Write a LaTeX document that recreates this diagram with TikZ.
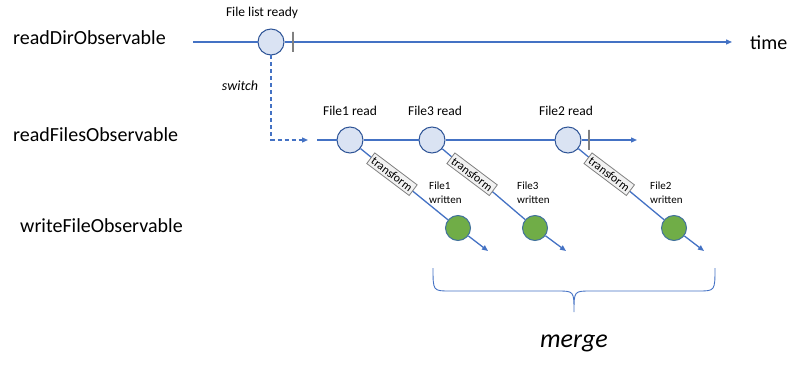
\documentclass[tikz,border=0pt]{standalone}
\usepackage{fontspec}
\setmainfont{Carlito}
\usetikzlibrary{arrows.meta, positioning}

\definecolor{azul}{HTML}{4472C4}
\definecolor{azulclaro}{HTML}{DAE3F3}
\definecolor{borda}{HTML}{2F5597}
\definecolor{verde}{HTML}{70AD47}
\definecolor{bordaverde}{HTML}{41719C}

\begin{document}
\begin{tikzpicture}[
      x=1pt, y=-1pt,
      rotulo/.style={font=\fontsize{20}{24}\selectfont, anchor=base west, inner sep=0pt},
      evento/.style={circle, draw=borda, fill=azulclaro, line width=1pt,
                     minimum size=26pt, inner sep=0pt},
      escrito/.style={circle, draw=bordaverde, fill=verde, line width=1pt,
                      minimum size=25pt, inner sep=0pt},
      nome/.style={font=\fontsize{13.5}{16}\selectfont, inner sep=0pt, anchor=base},
      nota/.style={font=\fontsize{11}{14}\selectfont, align=left, inner sep=0pt,
                   anchor=north west},
      caixa/.style={draw=gray, fill=black!5, text=black, rotate=-37, line width=0.8pt,
                    font=\fontsize{12}{14}\selectfont, inner sep=2.5pt},
      marca/.style={draw=gray, line width=1.5pt, minimum width=0pt,
                    minimum height=20pt, inner sep=0pt},
      linha/.style={azul, line width=1.3pt},
      seta/.style={-{Triangle[length=6pt, width=5pt]}, azul, line width=1.3pt}
    ]
    \useasboundingbox (0,0) rectangle (800,374);
    % observable names
    \node[rotulo] (readDir) at (13,45) {readDirObservable};
    \node[rotulo] (readFiles) at (13,142) {readFilesObservable};
    \node[rotulo] (writeFile) at (20,233) {writeFileObservable};
    % directory stream
    \coordinate (dirStart) at (193,42);
    \coordinate (dirEnd) at (732,42);
    \node[evento] (ready) at (271,42) {};
    \node[nome] (readyLabel) at (262,17) {File list ready};
    \draw[linha] (dirStart) -- (ready);
    \draw[seta] (ready) -- (dirEnd);
    \node[marca] (dirStop) at (293,42) {};
    \node[rotulo] (time) at (750,50) {time};
    % switch
    \coordinate (switchEnd) at (308,140);
    \draw[seta, dash pattern=on 4pt off 3pt] (ready) |- (switchEnd);
    \node[font=\itshape\fontsize{14}{16}\selectfont] (switch) at (240,86) {switch};
    % files stream
    \coordinate (readStart) at (317,140);
    \coordinate (readEnd) at (637,140);
    \node[evento] (f1) at (350,140) {};
    \node[evento] (f3) at (432,140) {};
    \node[evento] (f2) at (568,140) {};
    \node[nome] (f1Label) at (350,116) {File1 read};
    \node[nome] (f3Label) at (435,116) {File3 read};
    \node[nome] (f2Label) at (566,116) {File2 read};
    \draw[linha] (readStart) -- (f1) -- (f3) -- (f2);
    \draw[seta] (f2) -- (readEnd);
    \node[marca] (readStop) at (589,140) {};
    % written files
    \node[escrito] (w1) at (458,228) {};
    \node[escrito] (w3) at (535,228) {};
    \node[escrito] (w2) at (674,228) {};
    \coordinate (e1) at (488,251);
    \coordinate (e3) at (566,251);
    \coordinate (e2) at (704,251);
    \draw[linha] (f1) -- node[caixa, pos=0.36] (t1) {transform} (w1);
    \draw[linha] (f3) -- node[caixa, pos=0.36] (t3) {transform} (w3);
    \draw[linha] (f2) -- node[caixa, pos=0.36] (t2) {transform} (w2);
    \draw[seta] (w1) -- (e1);
    \draw[seta] (w3) -- (e3);
    \draw[seta] (w2) -- (e2);
    \node[nota] (w1Label) at (429,182) {File1\\written};
    \node[nota] (w3Label) at (517,182) {File3\\written};
    \node[nota] (w2Label) at (650,182) {File2\\written};
    % merge brace
    \draw[azul, line width=0.9pt] (433,268) .. controls (433,291) .. (450,291)
      -- (557,291) .. controls (574,291) .. (574,312)
      .. controls (574,291) .. (591,291) -- (698,291)
      .. controls (715,291) .. (715,268);
    \node[font=\itshape\fontsize{26}{30}\selectfont] (merge) at (574,343) {merge};
\end{tikzpicture}
\end{document}
